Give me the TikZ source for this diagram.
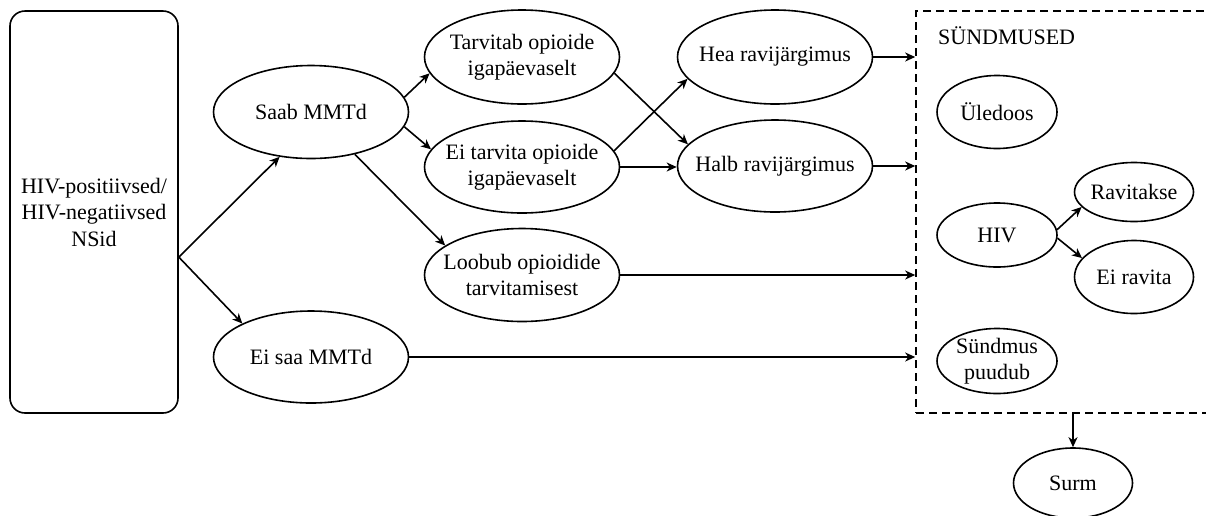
\documentclass[tikz,border=0pt]{standalone}
\usepackage{fontspec}
\setmainfont{Liberation Serif}
\usetikzlibrary{arrows.meta,shapes.geometric,calc}
\begin{document}
\begin{tikzpicture}[x=1pt,y=-1pt,
  every node/.style={font=\fontsize{22}{26.5}\selectfont},
  oval/.style={ellipse,draw,line width=1.6pt,inner ysep=0pt,inner xsep=-15pt,align=center},
  arr/.style={line width=1.6pt,-{Stealth[length=10pt,width=9pt,inset=3pt]}},
]
\useasboundingbox (0,0) rectangle (1206,515);
\clip (0,0) rectangle (1206,515);
% start box
\node[draw,rounded corners=15pt,line width=1.6pt,minimum width=168pt,minimum height=402pt,align=center,inner sep=0pt] (nsid) at (94,212) {HIV-positiivsed/\\HIV-negatiivsed\\NSid};
% main ovals
\node[oval,minimum width=195pt,minimum height=93pt] (saab) at (311,112) {Saab MMTd};
\node[oval,minimum width=195pt,minimum height=92pt] (eisaa) at (311,357) {Ei saa MMTd};
\node[oval,minimum width=195pt,minimum height=94pt] (tarv) at (522,57) {Tarvitab opioide\\igapäevaselt};
\node[oval,minimum width=195pt,minimum height=92pt] (eitarv) at (522,167) {Ei tarvita opioide\\igapäevaselt};
\node[oval,minimum width=195pt,minimum height=93pt] (loobub) at (522,275) {Loobub opioidide\\tarvitamisest};
\node[oval,minimum width=195pt,minimum height=94pt] (hea) at (775,57) {Hea ravijärgimus};
\node[oval,minimum width=195pt,minimum height=92pt] (halb) at (775,166) {Halb ravijärgimus};
% events box
\node[draw,dashed,dash pattern=on 8pt off 5pt,line width=1.6pt,minimum width=294pt,minimum height=402pt,inner sep=0pt] (box) at (1063,212) {};
\node[anchor=base west,inner sep=0pt] (sundm) at (938,44) {SÜNDMUSED};
\node[oval,minimum width=120pt,minimum height=73pt] (uledoos) at (997,112) {Üledoos};
\node[oval,minimum width=120pt,minimum height=64pt] (hiv) at (997,235) {HIV};
\node[oval,minimum width=119pt,minimum height=59pt] (ravit) at (1134,192) {Ravitakse};
\node[oval,minimum width=119pt,minimum height=73pt] (eirav) at (1134,277) {Ei ravita};
\node[oval,minimum width=120pt,minimum height=65pt,inner ysep=-5pt] (puudub) at (997,361) {Sündmus\\puudub};
\node[oval,minimum width=119pt,minimum height=70pt] (surm) at (1073,483) {Surm};
% connectors
\draw[arr] (nsid.-28.7) -- (saab.235);
\draw[arr] (nsid.-28.7) -- (eisaa.154);
\draw[arr] (saab.9) -- (tarv.190);
\draw[arr] (saab.-9) -- (eitarv.169);
\draw[arr] (saab.-44) -- (loobub.159);
\draw[arr] (tarv.-10) -- (halb.166);
\draw[arr] (eitarv.10) -- (hea.194);
\draw[arr] (eitarv.east) -- (eitarv.east -| halb.west);
\draw[arr] (hea.east) -- (hea.east -| box.west);
\draw[arr] (halb.east) -- (halb.east -| box.west);
\draw[arr] (loobub.east) -- (loobub.east -| box.west);
\draw[arr] (eisaa.east) -- (eisaa.east -| box.west);
\draw[arr] (hiv.5) -- (ravit.196);
\draw[arr] (hiv.-3) -- (eirav.160);
\draw[arr] (surm.north |- box.south) -- (surm.north);
\end{tikzpicture}
\end{document}
